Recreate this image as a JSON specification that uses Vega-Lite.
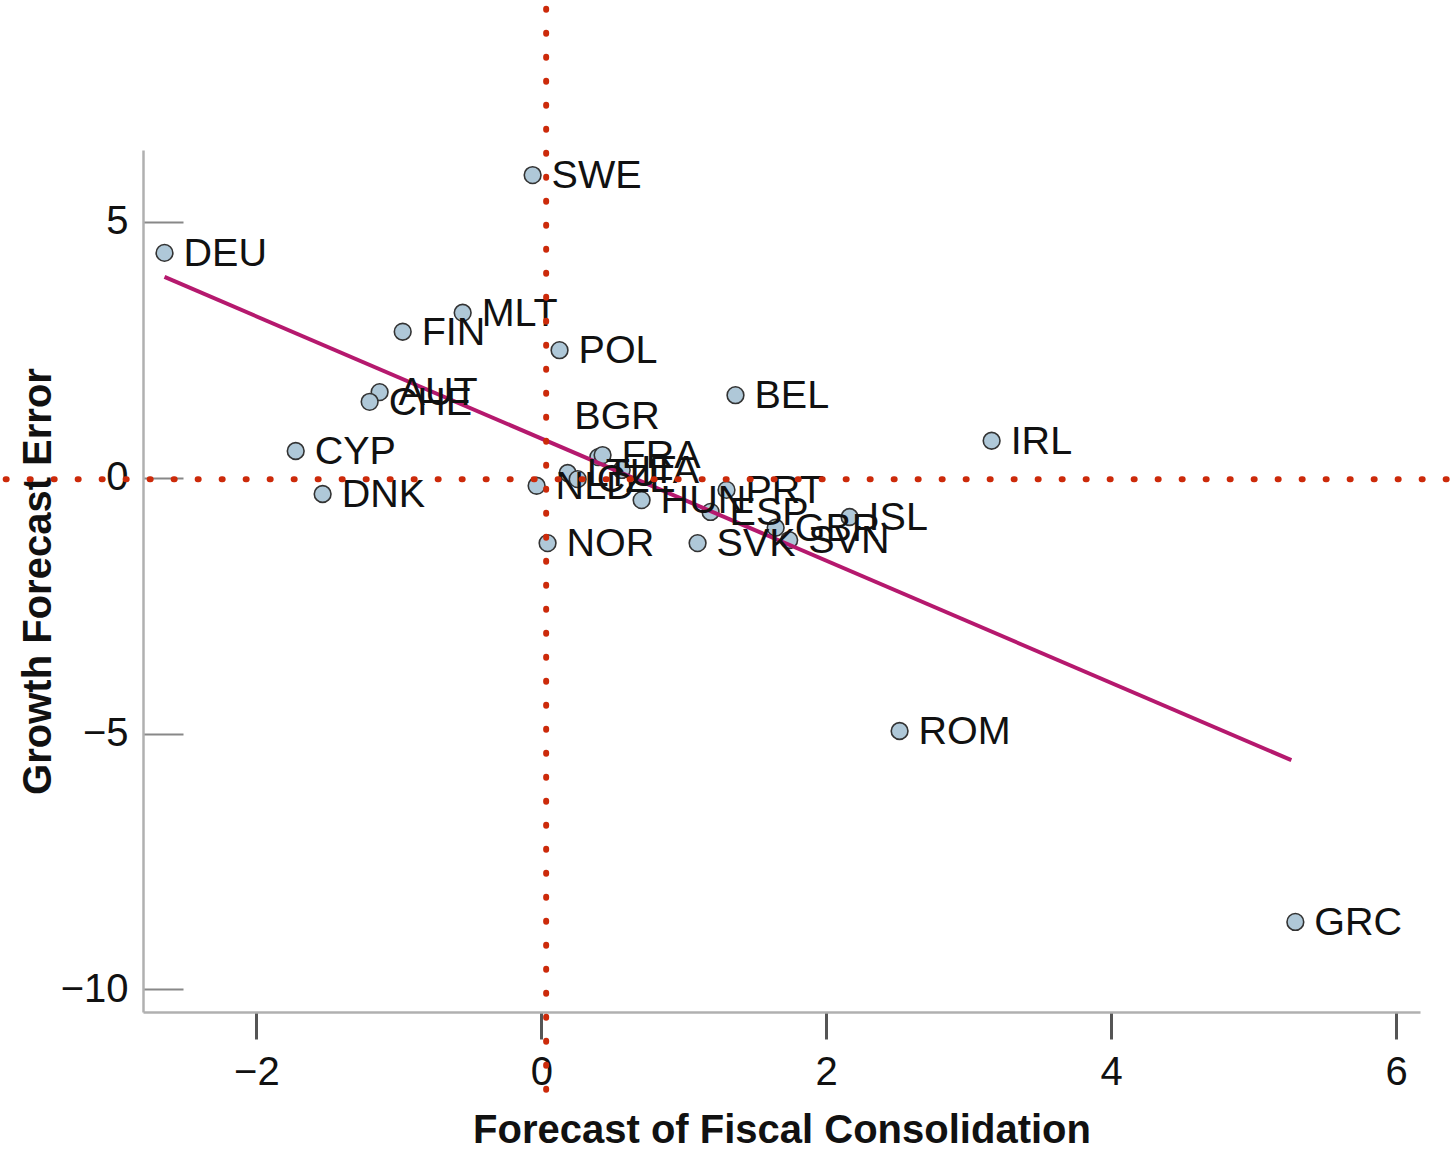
{
  "$schema": "https://vega.github.io/schema/vega-lite/v6.json",
  "autosize": "none",
  "width": 1277,
  "height": 862,
  "padding": {"left": 143, "top": 150, "right": 33, "bottom": 138},
  "background": "white",
  "config": {
    "view": {"stroke": null},
    "font": "Liberation Sans",
    "axis": {"labelFont": "Liberation Sans", "titleFont": "Liberation Sans", "labelColor": "#111", "titleColor": "#111", "grid": false}
  },
  "datasets": {
    "countries": [
      {"code": "SWE", "consolidation": -0.061, "error": 5.91},
      {"code": "DEU", "consolidation": -2.645, "error": 4.39},
      {"code": "MLT", "consolidation": -0.552, "error": 3.22},
      {"code": "FIN", "consolidation": -0.973, "error": 2.85},
      {"code": "POL", "consolidation": 0.128, "error": 2.49},
      {"code": "AUT", "consolidation": -1.135, "error": 1.67},
      {"code": "CHE", "consolidation": -1.205, "error": 1.48},
      {"code": "BEL", "consolidation": 1.363, "error": 1.61},
      {"code": "IRL", "consolidation": 3.161, "error": 0.72},
      {"code": "CYP", "consolidation": -1.724, "error": 0.52},
      {"code": "DNK", "consolidation": -1.535, "error": -0.32},
      {"code": "BGR", "consolidation": 0.40, "error": 0.40},
      {"code": "FRA", "consolidation": 0.430, "error": 0.44},
      {"code": "LTU", "consolidation": 0.185, "error": 0.09},
      {"code": "CZE", "consolidation": 0.255, "error": -0.03},
      {"code": "ITA", "consolidation": 0.564, "error": 0.15},
      {"code": "NLD", "consolidation": -0.033, "error": -0.16},
      {"code": "HUN", "consolidation": 0.704, "error": -0.44},
      {"code": "PRT", "consolidation": 1.30, "error": -0.24},
      {"code": "ESP", "consolidation": 1.188, "error": -0.67},
      {"code": "SVK", "consolidation": 1.097, "error": -1.28},
      {"code": "NOR", "consolidation": 0.044, "error": -1.28},
      {"code": "GBR", "consolidation": 1.645, "error": -0.98},
      {"code": "SVN", "consolidation": 1.74, "error": -1.22},
      {"code": "ISL", "consolidation": 2.164, "error": -0.77},
      {"code": "ROM", "consolidation": 2.515, "error": -4.95},
      {"code": "GRC", "consolidation": 5.293, "error": -8.68}
    ],
    "fit": [
      {"consolidation": -2.645, "error": 3.92},
      {"consolidation": 5.265, "error": -5.52}
    ],
    "vline": [{"consolidation": 0.034, "from": 9.16, "to": -12.1}],
    "hline": [{"error": -0.03, "from": -3.76, "to": 6.4}]
  },
  "encoding": {
    "x": {
      "field": "consolidation", "type": "quantitative",
      "scale": {"domain": [-2.796, 6.168], "nice": false, "zero": false},
      "axis": {
        "values": [-2, 0, 2, 4, 6],
        "title": "Forecast of Fiscal Consolidation",
        "titleFontSize": 40, "titleFontWeight": "bold", "titlePadding": 18,
        "labelFontSize": 40, "labelPadding": 13,
        "domainColor": "#b0b0b0", "domainWidth": 2.5,
        "tickColor": "#555", "tickWidth": 3, "tickSize": 27
      }
    },
    "y": {
      "field": "error", "type": "quantitative",
      "scale": {"domain": [-10.44, 6.4], "nice": false, "zero": false},
      "axis": {
        "values": [-10, -5, 0, 5],
        "title": "Growth Forecast Error",
        "titleFontSize": 40, "titleFontWeight": "bold", "titlePadding": 2,
        "labelFontSize": 40, "labelPadding": 55,
        "domainColor": "#b0b0b0", "domainWidth": 2.5,
        "tickColor": "#888", "tickWidth": 2, "tickSize": -40
      }
    }
  },
  "layer": [
    {
      "data": {"name": "countries"},
      "mark": {"type": "point", "filled": true, "size": 280, "fill": "#afc8d8", "stroke": "#333", "strokeWidth": 1.6, "opacity": 1, "fillOpacity": 1}
    },
    {
      "data": {"name": "fit"},
      "mark": {"type": "line", "color": "#b5196e", "strokeWidth": 4}
    },
    {
      "data": {"name": "countries"},
      "transform": [{"filter": "datum.code !== 'BGR'"}],
      "mark": {"type": "text", "align": "left", "baseline": "middle", "dx": 19, "dy": 1, "fontSize": 39.5, "font": "Liberation Sans", "color": "#111"},
      "encoding": {"text": {"field": "code"}}
    },
    {
      "data": {"name": "countries"},
      "transform": [{"filter": "datum.code === 'BGR'"}],
      "mark": {"type": "text", "align": "left", "baseline": "middle", "dx": -24, "dy": -40, "fontSize": 39.5, "font": "Liberation Sans", "color": "#111"},
      "encoding": {"text": {"field": "code"}}
    },
    {
      "data": {"name": "vline"},
      "mark": {"type": "rule", "stroke": "#cc2a0a", "strokeWidth": 6, "strokeCap": "round", "strokeDash": [1, 23]},
      "encoding": {"y": {"field": "from", "type": "quantitative"}, "y2": {"field": "to"}}
    },
    {
      "data": {"name": "hline"},
      "mark": {"type": "rule", "stroke": "#cc2a0a", "strokeWidth": 6, "strokeCap": "round", "strokeDash": [1, 23]},
      "encoding": {"x": {"field": "from", "type": "quantitative"}, "x2": {"field": "to"}}
    }
  ]
}
